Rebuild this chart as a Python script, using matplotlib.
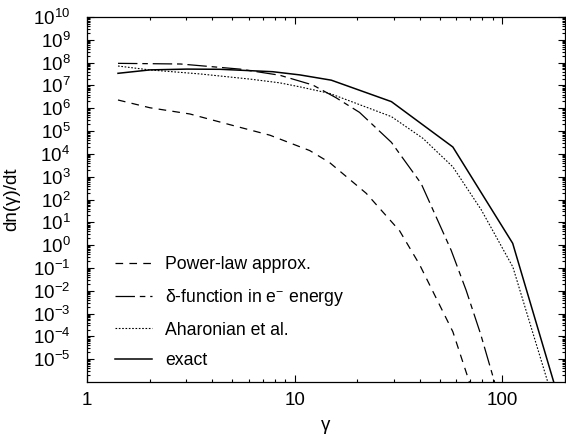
import numpy as np
import matplotlib
matplotlib.use("Agg")
import matplotlib.pyplot as plt
from matplotlib.ticker import LogLocator, FixedLocator, FixedFormatter, NullFormatter

plt.rcParams['font.family'] = ['Liberation Sans', 'DejaVu Sans']
plt.rcParams['mathtext.fontset'] = 'custom'
plt.rcParams['mathtext.rm'] = 'Liberation Sans'
plt.rcParams['mathtext.it'] = 'Liberation Sans'
plt.rcParams['mathtext.default'] = 'regular'
plt.rcParams['lines.scale_dashes'] = False

# ---- data ----
gamma_power = [1.41, 2.01, 3.13, 4.88, 7.59, 11.8, 14.7, 22.1, 32.0, 39.9, 57.7, 69.3]
rate_power = [2.3e6, 1.05e6, 5.6e5, 1.9e5, 6.6e4, 1.4e4, 4.2e3, 186, 4.2, 0.14, 1.6e-4, 1e-6]

gamma_delta = [1.41, 2.82, 5.45, 8.47, 12.2, 15.8, 20.5, 29.2, 40.6, 56.6, 66.8, 78.5, 91.6]
rate_delta = [9.3e7, 8.7e7, 5.2e7, 2.8e7, 1.05e7, 2.9e6, 6.6e5, 3.2e4, 5.0e2, 0.60, 1.07e-2, 1.26e-4, 1e-6]

gamma_ahar = [1.41, 2.0, 3.49, 6.08, 8.47, 10.57, 14.7, 29.2, 41.4, 57.7, 79.1, 112.2, 165.2]
rate_ahar = [7.1e7, 4.8e7, 3.2e7, 1.9e7, 1.3e7, 8.7e6, 4.5e6, 4.3e5, 4.8e4, 2.7e3, 35, 0.11, 1e-6]

gamma_exact = [1.41, 2.01, 3.02, 4.37, 7.83, 10.57, 15.0, 29.2, 57.7, 112, 176.5]
rate_exact = [3.4e7, 4.8e7, 5.2e7, 5.1e7, 4.0e7, 2.9e7, 1.7e7, 1.95e6, 2.0e4, 1.2, 1e-6]

labels = ["Power-law approx.", "δ-function in e$^{-}$ energy", "Aharonian et al.", "exact"]
xtick_vals = [1, 10, 100]
xtick_labels = ["1", "10", "100"]
ytick_exps = list(range(-5, 11))

# ---- figure ----
fig = plt.figure(figsize=(5.66, 4.38), dpi=100)
ax = fig.add_axes([87/566, 56/438, 478/566, 365/438])

ax.plot(gamma_power, rate_power, color='black', lw=0.9, linestyle=(0, (5.5, 4.5)), label=labels[0])
ax.plot(gamma_delta, rate_delta, color='black', lw=0.9, linestyle=(0, (14, 3.5, 4, 3.5)), label=labels[1])
ax.plot(gamma_ahar, rate_ahar, color='black', lw=0.8, linestyle=(0, (1.2, 1.2)), label=labels[2])
ax.plot(gamma_exact, rate_exact, color='black', lw=1.1, linestyle='-', label=labels[3])

ax.set_xscale('log')
ax.set_yscale('log')
ax.set_xlim(1, 200)
ax.set_ylim(1e-6, 1e10)

ax.xaxis.set_major_locator(FixedLocator(xtick_vals))
ax.xaxis.set_major_formatter(FixedFormatter(xtick_labels))
ax.xaxis.set_minor_locator(LogLocator(base=10, subs=np.arange(2, 10), numticks=100))
ax.xaxis.set_minor_formatter(NullFormatter())

yt = [10.0**e for e in ytick_exps]
ax.yaxis.set_major_locator(FixedLocator(yt))
ax.yaxis.set_major_formatter(FixedFormatter([r"$10^{%d}$" % e for e in ytick_exps]))
ax.yaxis.set_minor_locator(LogLocator(base=10, subs=np.arange(2, 10), numticks=200))
ax.yaxis.set_minor_formatter(NullFormatter())

ax.tick_params(which='both', direction='in', top=True, right=True, labelsize=13.5, width=0.8)
ax.tick_params(which='major', length=5)
ax.tick_params(which='minor', length=2.5)
ax.tick_params(axis='x', which='major', pad=7)
ax.tick_params(axis='y', which='major', pad=12)
for s in ax.spines.values():
    s.set_linewidth(0.9)

ax.set_xlabel("γ", fontsize=13.5)
ax.xaxis.set_label_coords(0.5, -0.095)
ax.set_ylabel("dn(γ)/dt", fontsize=13.5)
ax.yaxis.set_label_coords(-0.14, 0.5)

leg = ax.legend(loc='upper left', bbox_to_anchor=(0.058, 0.345), frameon=False,
                fontsize=12.7, handlelength=2.1, handletextpad=0.75,
                labelspacing=0.78, borderpad=0, borderaxespad=0)

fig.savefig("out.png", dpi=100)
